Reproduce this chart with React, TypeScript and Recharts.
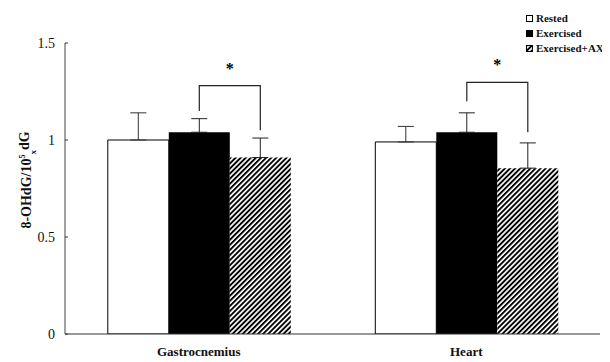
import React from "react";
import { BarChart, Bar, XAxis, YAxis, ErrorBar, Rectangle } from "recharts";

const categories = ["Gastrocnemius", "Heart"];
const rested = [1.0, 0.99];
const exercised = [1.04, 1.04];
const exercisedAX = [0.91, 0.855];
const restedErr = [0.14, 0.08];
const exercisedErr = [0.07, 0.1];
const exercisedAXErr = [0.1, 0.13];
const bracketTop = [1.28, 1.297];
const bracketLeftEnd = [1.15, 1.2];
const bracketRightEnd = [1.05, 1.04];
const starLevel = [1.36, 1.38];
const yTicks = [0, 0.5, 1, 1.5];
const seriesNames = ["Rested", "Exercised", "Exercised+AX"];

const data = categories.map((name, i) => ({
  name,
  rested: rested[i],
  exercised: exercised[i],
  exercisedAX: exercisedAX[i],
  restedErr: [0, restedErr[i]],
  exercisedErr: [0, exercisedErr[i]],
  exercisedAXErr: [0, exercisedAXErr[i]],
  bracketTop: bracketTop[i],
  bracketLeftEnd: bracketLeftEnd[i],
  bracketRightEnd: bracketRightEnd[i],
  starLevel: starLevel[i],
}));

const FONT = "'Liberation Serif', 'Times New Roman', serif";

const ExercisedShape = (props: any) => {
  const { x, y, width, height, payload } = props;
  const base = y + height;
  const ppu = height / payload.exercised;
  const yOf = (v: number) => base - v * ppu;
  const lx = x + width / 2;
  const rx = x + width * 1.5;
  const top = yOf(payload.bracketTop);
  return (
    <g>
      <Rectangle x={x} y={y} width={width} height={height} fill="#000" />
      <path
        d={`M${lx},${yOf(payload.bracketLeftEnd)} L${lx},${top} L${rx},${top} L${rx},${yOf(payload.bracketRightEnd)}`}
        fill="none"
        stroke="#222"
        strokeWidth={1.2}
      />
      <text
        x={(lx + rx) / 2}
        y={yOf(payload.starLevel)}
        textAnchor="middle"
        dominantBaseline="middle"
        fontFamily={FONT}
        fontWeight="bold"
        fontSize={16}
        fill="#000"
      >
        *
      </text>
    </g>
  );
};

const YTick = (props: any) => {
  const { x, y, payload } = props;
  return (
    <g>
      <line x1={x} x2={x + 3} y1={y} y2={y} stroke="#333" />
      <text x={x - 10} y={y} dy="0.35em" textAnchor="end" fontFamily={FONT} fontSize={14} fill="#111">
        {String(payload.value)}
      </text>
    </g>
  );
};

const XTick = (props: any) => {
  const { x, y, payload } = props;
  return (
    <text x={x} y={y} dy="0.71em" textAnchor="middle" fontFamily={FONT} fontWeight="bold" fontSize={13} fill="#111">
      {payload.value}
    </text>
  );
};

const YLabel = () => {
  return (
    <text
      transform="translate(26,180) rotate(-90)"
      textAnchor="middle"
      dy="0.35em"
      fontFamily={FONT}
      fontWeight="bold"
      fontSize={14}
      fill="#111"
    >
      <tspan>8-OHdG/10</tspan>
      <tspan fontSize={8} dy="-0.7em">5</tspan>
      <tspan fontSize={9} dy="1.2em">x</tspan>
      <tspan dy="-0.5em">dG</tspan>
    </text>
  );
};

const Legend2 = () => {
  const fills = ["#fff", "#000", "url(#hatch)"];
  return (
    <div
      style={{
        position: "absolute",
        left: 526,
        top: 11,
        fontFamily: FONT,
        fontWeight: "bold",
        fontSize: 11,
        color: "#111",
        lineHeight: "15px",
      }}
    >
      {seriesNames.map((n, i) => (
        <div key={n} style={{ display: "flex", alignItems: "center", whiteSpace: "nowrap" }}>
          <svg width={7} height={7} style={{ marginRight: 3 }}>
            <rect x={0.5} y={0.5} width={6} height={6} fill={fills[i]} stroke="#000" strokeWidth={1} />
          </svg>
          {n}
        </div>
      ))}
    </div>
  );
};

export default function App() {
  return (
    <div style={{ position: "relative", left: -8, top: -8, width: 610, height: 362, background: "#fff" }}>
      <BarChart
        width={610}
        height={362}
        data={data}
        margin={{ top: 43, right: 10, left: 0, bottom: 0 }}
        barCategoryGap="16%"
        barGap={0}
      >
        <defs>
          <pattern id="hatch" patternUnits="userSpaceOnUse" width={3.6} height={3.6} patternTransform="rotate(45)">
            <rect x={0} y={0} width={3.6} height={3.6} fill="#fff" />
            <rect x={0} y={0} width={1.9} height={3.6} fill="#000" />
          </pattern>
        </defs>
        <XAxis
          dataKey="name"
          axisLine={{ stroke: "#333", strokeWidth: 1 }}
          tickLine={false}
          tickSize={0}
          tickMargin={13}
          height={28}
          tick={<XTick />}
        />
        <YAxis
          domain={[0, 1.5]}
          ticks={yTicks}
          width={65}
          axisLine={{ stroke: "#444", strokeWidth: 1 }}
          tickLine={false}
          tickSize={0}
          tickMargin={0}
          tick={<YTick />}
          label={<YLabel />}
          allowDataOverflow
        />
        <Bar dataKey="rested" name="Rested" fill="#fff" stroke="#000" strokeWidth={1} isAnimationActive={false}>
          <ErrorBar dataKey="restedErr" width={8} stroke="#333" strokeWidth={1} direction="y" />
        </Bar>
        <Bar dataKey="exercised" name="Exercised" fill="#000" shape={<ExercisedShape />} isAnimationActive={false}>
          <ErrorBar dataKey="exercisedErr" width={8} stroke="#222" strokeWidth={1} direction="y" />
        </Bar>
        <Bar dataKey="exercisedAX" name="Exercised+AX" fill="url(#hatch)" isAnimationActive={false}>
          <ErrorBar dataKey="exercisedAXErr" width={8} stroke="#222" strokeWidth={1} direction="y" />
        </Bar>
      </BarChart>
      <Legend2 />
    </div>
  );
}
